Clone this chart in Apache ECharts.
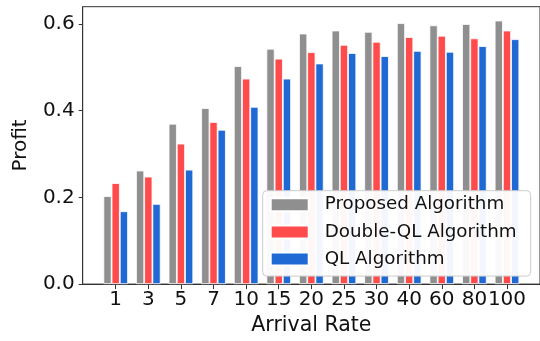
<!DOCTYPE html>
<html>
<head>
<meta charset="utf-8">
<script src="https://cdn.jsdelivr.net/npm/echarts@6/dist/echarts.min.js"></script>
<style>html,body{margin:0;padding:0;background:#fff}#c{width:540px;height:341px}</style>
</head>
<body>
<div id="c"></div>
<script>
const categories = ['1','3','5','7','10','15','20','25','30','40','60','80','100'];
const proposed = [0.203,0.262,0.370,0.406,0.503,0.543,0.578,0.585,0.582,0.602,0.597,0.600,0.608];
const doubleQL = [0.233,0.248,0.324,0.374,0.474,0.520,0.535,0.552,0.559,0.570,0.573,0.567,0.585];
const ql       = [0.168,0.185,0.264,0.356,0.409,0.474,0.509,0.533,0.526,0.538,0.536,0.549,0.565];
const yTicks = [0, 0.2, 0.4, 0.6];
const seriesNames = ['Proposed Algorithm','Double-QL Algorithm','QL Algorithm'];
const colors = ['#8f8f8f','#ff4b4b','#1f69d4'];

const idx = categories.map((_, i) => i);
const toPairs = arr => arr.map((v, i) => [i, v]);
const font = 'DejaVu Sans';

const chart = echarts.init(document.getElementById('c'), null, {renderer: 'canvas'});
chart.setOption({
  animation: false,
  textStyle: {fontFamily: font},
  grid: {left: 82.7, right: -3.2, top: 6.7, bottom: 56, show: true, borderColor: '#333', borderWidth: 1, backgroundColor: 'transparent'},
  xAxis: {
    type: 'value', min: -1.0125, max: 13.0125,
    name: 'Arrival Rate', nameLocation: 'middle', nameGap: 28,
    nameTextStyle: {fontSize: 20.5, color: '#111', fontFamily: font},
    axisLine: {show: true, onZero: false, lineStyle: {color: '#333', width: 1}},
    axisTick: {show: true, length: 5, lineStyle: {color: '#333'}, customValues: idx},
    axisLabel: {customValues: idx, formatter: v => categories[Math.round(v)] ?? '', fontSize: 20, color: '#111', margin: 6, fontFamily: font},
    splitLine: {show: false}
  },
  yAxis: {
    type: 'value', min: 0, max: 0.64, interval: 0.2,
    name: 'Profit', nameLocation: 'middle', nameGap: 52, nameRotate: 90,
    nameTextStyle: {fontSize: 20, color: '#111', fontFamily: font},
    axisLine: {show: true, onZero: false, lineStyle: {color: '#333', width: 1}},
    axisTick: {show: true, length: 4, lineStyle: {color: '#333'}},
    axisLabel: {formatter: v => yTicks.includes(Math.round(v*10)/10) ? v.toFixed(1) : '', fontSize: 20, color: '#111', margin: 8, fontFamily: font},
    splitLine: {show: false}
  },
  legend: {
    orient: 'vertical', left: 262.7, top: 190.7,
    itemWidth: 38, itemHeight: 13, itemGap: 9.2,
    padding: [5, 14, 8, 7],
    backgroundColor: 'rgba(255,255,255,0.95)', borderColor: '#cccccc', borderWidth: 1, borderRadius: 4,
    textStyle: {fontSize: 18.3, color: '#111', fontFamily: font, padding: [0, 0, 0, 11]},
    icon: 'rect',
    data: seriesNames,
    z: 10
  },
  series: [proposed, doubleQL, ql].map((arr, k) => ({
    name: seriesNames[k], type: 'bar', data: toPairs(arr),
    barWidth: 8.2, barGap: '0%',
    itemStyle: {color: colors[k], borderColor: '#ffffff', borderWidth: 0.8},
    emphasis: {disabled: true}
  }))
});
</script>
</body>
</html>
